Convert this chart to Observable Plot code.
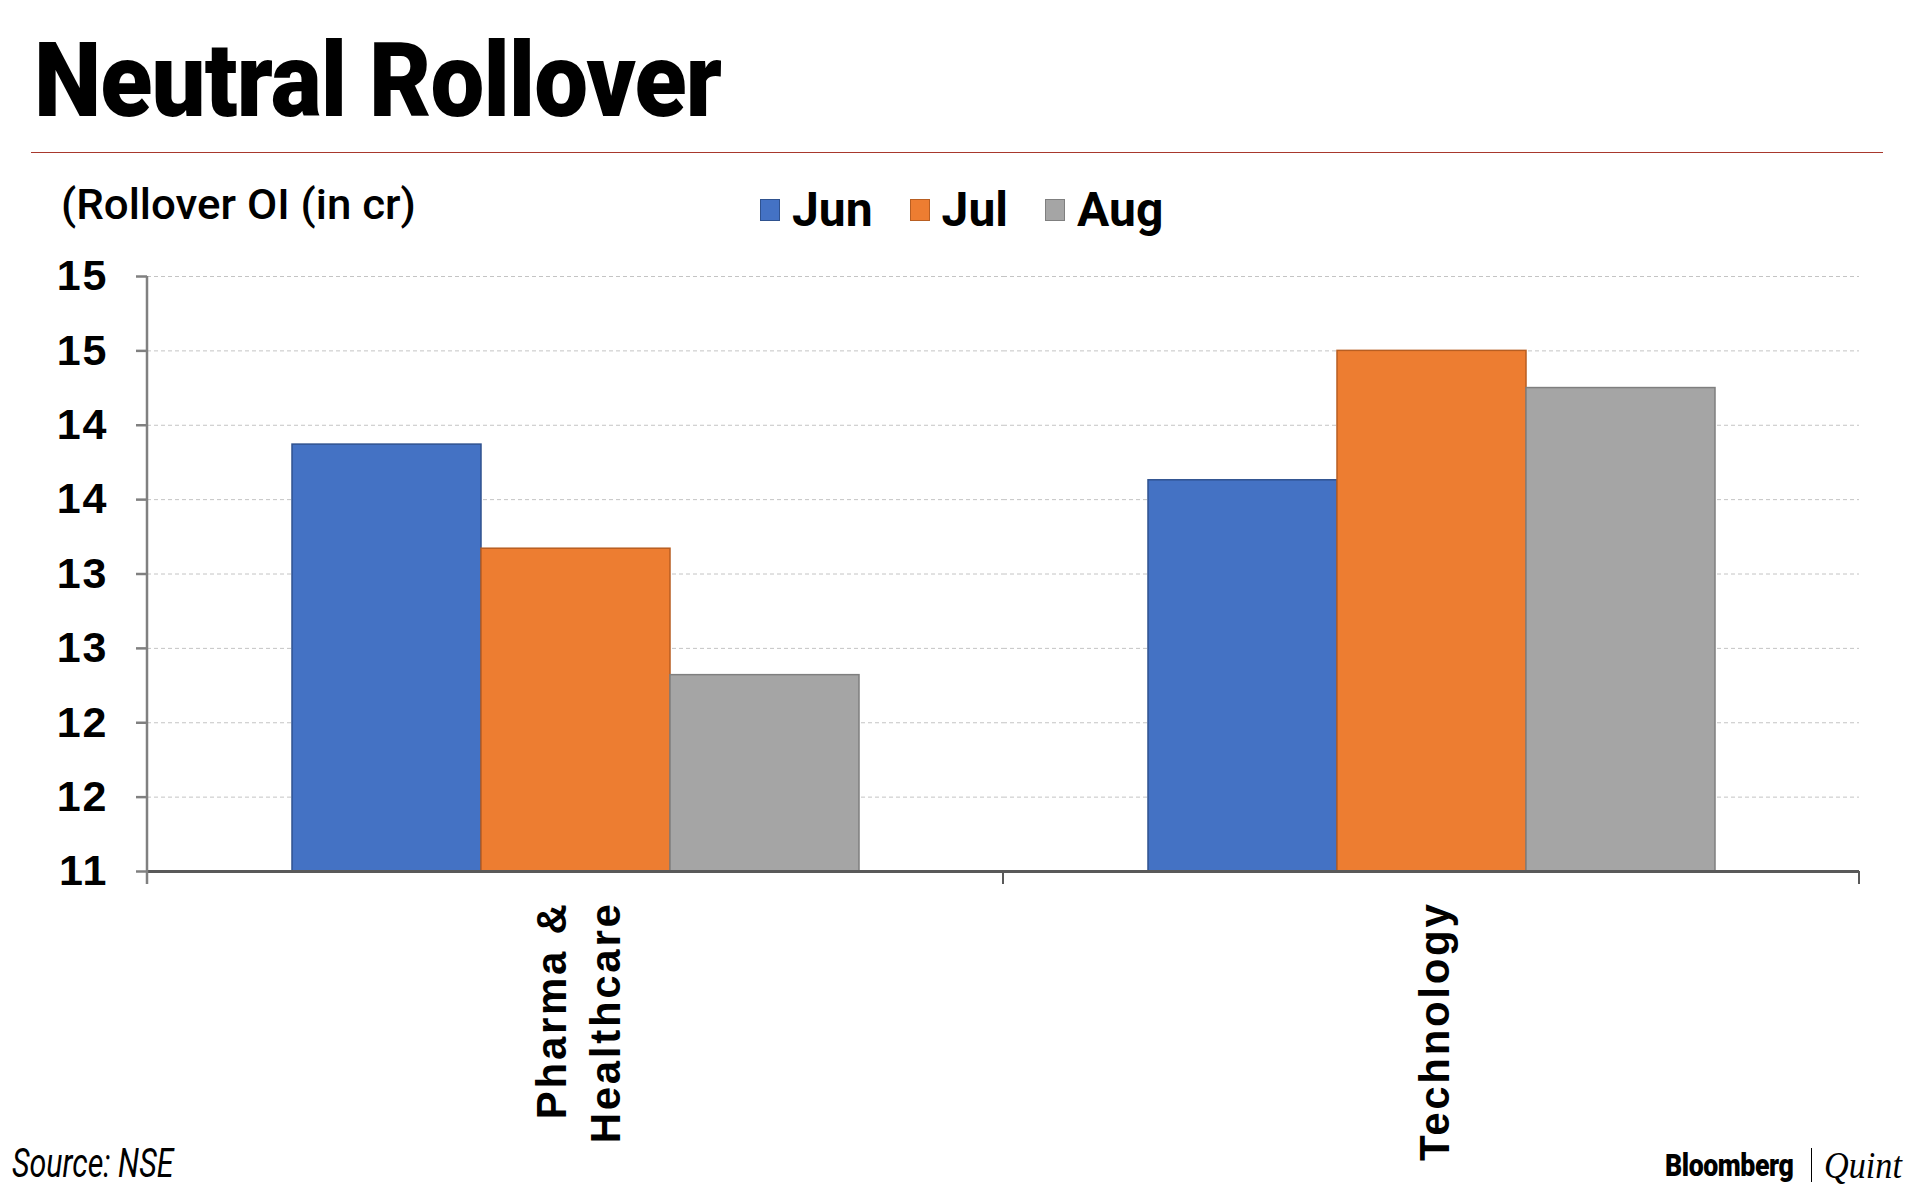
<!DOCTYPE html>
<html>
<head>
<meta charset="utf-8">
<script src="https://cdn.jsdelivr.net/npm/d3@7"></script>
<script src="https://cdn.jsdelivr.net/npm/@observablehq/plot@0.6"></script>
<style>
  html, body { margin: 0; padding: 0; background: #fff; }
  body { width: 1920px; height: 1195px; position: relative; overflow: hidden; font-family: Roboto, "Liberation Sans", sans-serif; }
  #chart { position: absolute; left: 0; top: 240px; }
  #chart svg text { letter-spacing: 2px; }
  #chart svg g[aria-label="fx-axis tick label"] text { letter-spacing: 2.7px; }
  .abs { position: absolute; white-space: nowrap; line-height: 1; z-index: 2; }
  #title { left: 34px; top: 29px; font-size: 103px; font-weight: 900; color: #000; transform-origin: 0 0; transform: scaleX(0.93); letter-spacing: -1px; }
  #rule { left: 31px; top: 152px; width: 1852px; height: 0; border-top: 1.5px solid #a8382d; }
  #ylabel { left: 61px; top: 183px; font-size: 43px; font-weight: 500; color: #000; transform-origin: 0 0; transform: scaleX(1.02); }
  #legend { left: 760px; top: 186px; display: flex; align-items: center; font-size: 48px; font-weight: 700; color: #000; }
  #legend .item { display: flex; align-items: center; margin-right: 37px; }
  #legend .sw { width: 20px; height: 22px; margin-right: 12px; box-sizing: border-box; }
  #source { left: 12px; top: 1144px; font-size: 40px; font-style: italic; color: #000; transform-origin: 0 0; transform: scaleX(0.76); }
  #bq { left: 1665px; top: 1146px; display: flex; align-items: center; }
  #bq .b { font-size: 31px; font-weight: 900; letter-spacing: -0.5px; transform-origin: 0 50%; transform: scaleX(0.86); width: 136px; }
  #bq .sep { width: 0; height: 34px; border-left: 1.5px solid #000; margin: 0 12px 0 10px; }
  #bq .q { font-family: "Liberation Serif", "DejaVu Serif", serif; font-style: italic; font-size: 38px; transform-origin: 0 50%; transform: scaleX(0.9); }
</style>
</head>
<body>
<div id="title" class="abs">Neutral Rollover</div>
<div id="rule" class="abs"></div>
<div id="ylabel" class="abs">(Rollover OI (in cr)</div>
<div id="legend" class="abs"></div>
<div id="chart"></div>
<div id="source" class="abs">Source: NSE</div>
<div id="bq" class="abs"><span class="b">Bloomberg</span><span class="sep"></span><span class="q">Quint</span></div>
<script>
// ---- data ----
const categories = ["Pharma & Healthcare", "Technology"];
const categoryLabels = ["Pharma &\nHealthcare", "Technology"];
const months = ["Jun", "Jul", "Aug"];
const junValues = [13.87, 13.63];
const julValues = [13.17, 14.50];
const augValues = [12.32, 14.25];
const yTicks = [11, 11.5, 12, 12.5, 13, 13.5, 14, 14.5, 15];
const yTickLabels = ["11", "12", "12", "13", "13", "14", "14", "15", "15"];
const fills = ["#4472C4", "#ED7D31", "#A5A5A5"];
const strokes = ["#2F528F", "#B85E22", "#7F7F7F"];

const seriesValues = [junValues, julValues, augValues];
const rows = [];
categories.forEach((c, ci) => {
  months.forEach((m, mi) => {
    rows.push({category: c, month: m, value: seriesValues[mi][ci]});
  });
});

// legend
const legend = document.getElementById("legend");
months.forEach((m, i) => {
  const item = document.createElement("div");
  item.className = "item";
  const sw = document.createElement("span");
  sw.className = "sw";
  sw.style.background = fills[i];
  sw.style.border = "1px solid " + strokes[i];
  const t = document.createElement("span");
  t.textContent = m;
  item.appendChild(sw); item.appendChild(t);
  legend.appendChild(item);
});

const plot = Plot.plot({
  width: 1920,
  height: 955,
  marginTop: 36,
  marginBottom: 324,
  marginLeft: 147,
  marginRight: 61,
  style: {fontFamily: "'Liberation Sans', Arial, sans-serif", background: "transparent", color: "#000"},
  fx: {domain: categories, padding: 0, label: null},
  x: {domain: months, paddingInner: 0, paddingOuter: 0.756, axis: null},
  y: {domain: [11, 15], axis: null},
  color: {domain: months, range: fills},
  marks: [
    Plot.gridY(yTicks, {stroke: "#c4c4c4", strokeOpacity: 1, strokeWidth: 1, strokeDasharray: "4,3"}),
    Plot.barY(rows, {
      fx: "category", x: "month", y1: 11, y2: "value",
      fill: "month",
      stroke: d => strokes[months.indexOf(d.month)],
      strokeWidth: 1.5
    }),
    Plot.ruleY([11], {stroke: "#595959", strokeWidth: 3}),
    Plot.axisY({
      ticks: yTicks,
      tickFormat: d => yTickLabels[yTicks.indexOf(d)],
      tickSize: 11, tickPadding: 28,
      stroke: "#808080", strokeWidth: 2.5,
      fontSize: 43, fontWeight: "bold", fill: "#000",
      label: null
    }),
    Plot.axisFx({
      anchor: "bottom",
      tickSize: 0, tickPadding: 30, tickRotate: -90,
      tickFormat: d => categoryLabels[categories.indexOf(d)],
      fontSize: 42, fontWeight: "bold", fill: "#000",
      lineHeight: 1.29,
      label: null
    })
  ]
});
document.getElementById("chart").appendChild(plot);

// y-axis line and category boundary ticks, placed from the plot's own scales
const fx = plot.scale("fx");
const ys = plot.scale("y");
const svg = d3.select(plot);
const bounds = categories.map(c => fx.apply(c)).concat([fx.apply(categories[categories.length - 1]) + fx.bandwidth]);
const yBase = ys.apply(11);
svg.append("line")
  .attr("x1", bounds[0]).attr("x2", bounds[0])
  .attr("y1", ys.apply(15)).attr("y2", yBase + 13)
  .attr("stroke", "#808080").attr("stroke-width", 2.5);
bounds.slice(1).forEach(bx => {
  svg.append("line")
    .attr("x1", bx).attr("x2", bx)
    .attr("y1", yBase).attr("y2", yBase + 13)
    .attr("stroke", "#595959").attr("stroke-width", 2);
});
</script>
</body>
</html>
